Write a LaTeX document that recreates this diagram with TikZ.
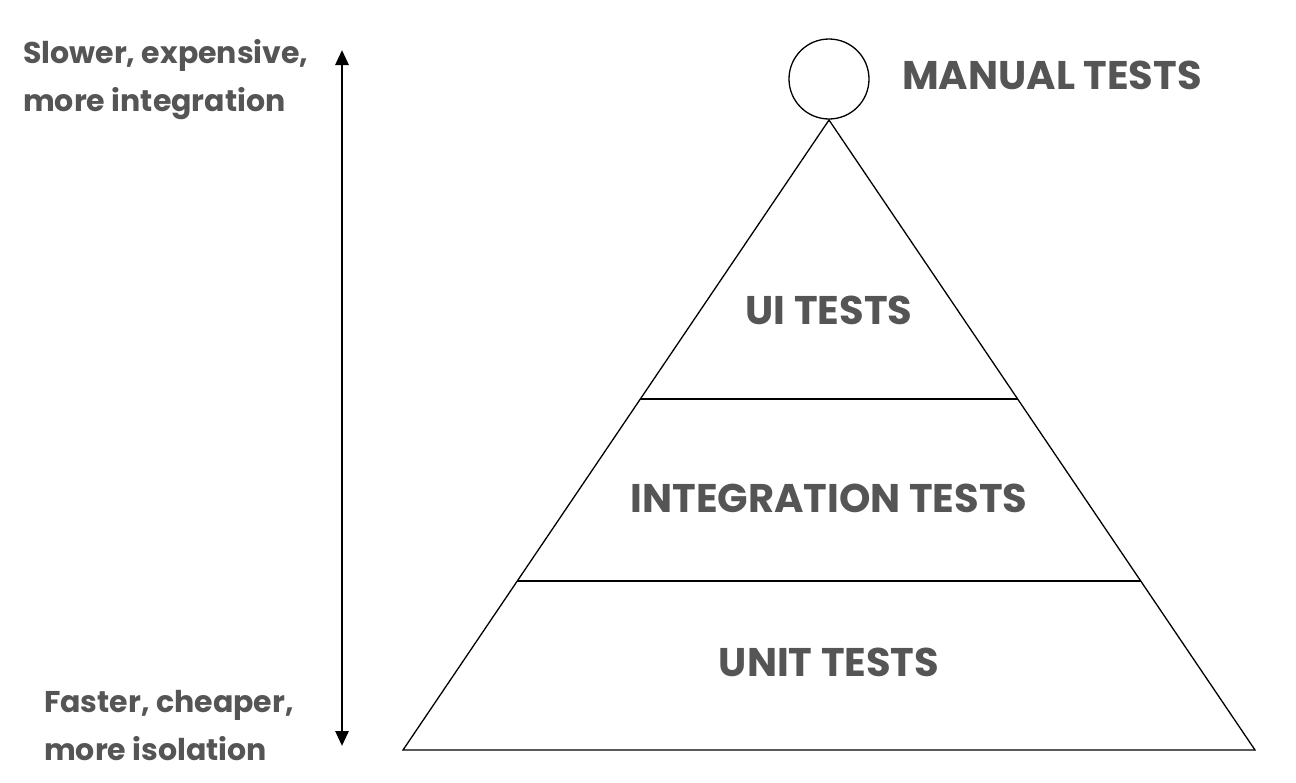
\documentclass[tikz,border=0pt]{standalone}
\usepackage{fontspec}
\setmainfont{Poppins}
\usetikzlibrary{arrows.meta}
\definecolor{txt}{HTML}{555555}
\tikzset{
  lbl/.style={font=\bfseries\fontsize{40}{44}\selectfont, text=txt, inner sep=0pt},
  side/.style={font=\bfseries\fontsize{30}{48}\selectfont, text=txt, inner sep=0pt, align=left, anchor=north west},
  edge/.style={draw=black, line width=1.3pt}
}
\begin{document}
\begin{tikzpicture}[x=1pt,y=-1pt]
\useasboundingbox (0,0) rectangle (1296,782);
\coordinate (apex) at (829,120);
\coordinate (bl) at (403,750);
\coordinate (br) at (1255,750);
\draw[edge, line join=miter] (apex) -- (bl) -- (br) -- cycle;
\path (apex) -- (bl) coordinate[pos=0.4429] (l1) coordinate[pos=0.7317] (l2);
\path (apex) -- (br) coordinate[pos=0.4429] (r1) coordinate[pos=0.7317] (r2);
\draw[edge] (l1) -- (r1);
\draw[edge] (l2) -- (r2);
\node[edge, circle, minimum size=80pt, inner sep=0pt] (top) at (829,79) {};
\node[lbl] (manual) at (1052,75) {MANUAL TESTS};
\node[lbl] (ui) at (829,310) {UI TESTS};
\node[lbl] (integ) at (829,498) {INTEGRATION TESTS};
\node[lbl] (unit) at (829,662) {UNIT TESTS};
\coordinate (atop) at (342,50);
\coordinate (abot) at (342,746);
\draw[line width=2.8pt, {Triangle[length=15pt,width=13pt]}-{Triangle[length=15pt,width=13pt]}] (abot) -- (atop);
\node[side] (slow) at (23,39) {Slower, expensive,\\more integration};
\node[side] (fast) at (44,690) {Faster, cheaper,\\more isolation};
\end{tikzpicture}
\end{document}
